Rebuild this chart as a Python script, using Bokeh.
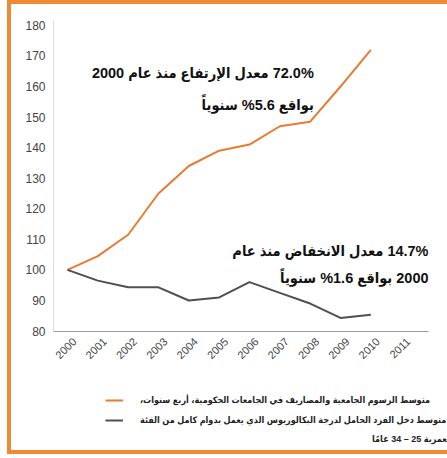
import numpy as np
from bokeh.plotting import figure
from bokeh.layouts import column
from bokeh.models import Label, Legend, LegendItem, FixedTicker, Range1d
from bokeh.embed import file_html
from bokeh.resources import INLINE

# ---- data ----
years = [2000, 2001, 2002, 2003, 2004, 2005, 2006, 2007, 2008, 2009, 2010]
tuition_index = [100, 104.5, 111.5, 125, 134, 139, 141, 147, 148.5, 160, 172]
income_index = [100, 96.5, 94.3, 94.3, 90, 91, 96, 92.5, 89, 84.3, 85.3]
tick_years = [2000, 2001, 2002, 2003, 2004, 2005, 2006, 2007, 2008, 2009, 2010, 2011]
y_ticks = [80, 90, 100, 110, 120, 130, 140, 150, 160, 170, 180]

rise_line1 = "72.0% معدل الإرتفاع منذ عام 2000"
rise_line2 = "بواقع 5.6% سنوياً"
fall_line1 = "14.7% معدل الانخفاض منذ عام"
fall_line2 = "2000 بواقع 1.6% سنوياً"
legend_tuition = "متوسط الرسوم الجامعية والمصاريف في الجامعات الحكومية، أربع سنوات،"
legend_income = "متوسط دخل الفرد الحامل لدرجة البكالوريوس الذي يعمل بدوام كامل من الفئة"
legend_income2 = "العمرية 25 – 34 عامًا"

RLE, PDF = "\u202B", "\u202C"
def rtl(s):
    return RLE + s + PDF

ORANGE = "#E97B30"
BORDER = "#EF8A36"
GREY = "#4F4F4F"
AR_FONT = "'Liberation Sans', 'DejaVu Sans Condensed'"

# ---------------- chart ----------------
X0, X1 = 1999.54, 2011.9
p = figure(width=447, height=378, output_backend="svg", toolbar_location=None,
           x_range=Range1d(X0, X1), y_range=Range1d(79.85, 181.6),
           min_border_left=53, min_border_right=19, min_border_top=20,
           min_border_bottom=47)
# labels of the year axis sit centred under each year (rotated text is end-anchored)
p.extra_x_ranges = {"years": Range1d(X0 - 0.23, X1 - 0.23)}
p.outline_line_color = None
p.xgrid.visible = False
p.ygrid.visible = False
p.background_fill_color = "white"
p.border_fill_color = None
# orange frame: left and top bands
p.styles = {"box-shadow": "inset 7px 0 0 0 white, inset 11px 4px 0 0 " + BORDER,
            "background-color": "white"}

xa = p.xaxis[0]
xa.x_range_name = "years"
xa.ticker = FixedTicker(ticks=tick_years)
xa.major_label_orientation = np.pi / 4
xa.major_tick_line_color = None
xa.minor_tick_line_color = None
xa.axis_line_color = "#9a9a9a"
xa.major_label_text_font = "Liberation Sans"
xa.major_label_text_font_size = "11px"
xa.major_label_text_color = "#444444"
xa.major_label_standoff = 2

p.yaxis.ticker = FixedTicker(ticks=y_ticks)
p.yaxis.major_tick_line_color = None
p.yaxis.minor_tick_line_color = None
p.yaxis.major_tick_out = 0
p.yaxis.axis_line_color = "#dddddd"
p.yaxis.major_label_text_font = "Liberation Sans"
p.yaxis.major_label_text_font_size = "12px"
p.yaxis.major_label_text_color = "#444444"
p.yaxis.major_label_standoff = 8

p.line(years, tuition_index, line_color=ORANGE, line_width=2)
p.line(years, income_index, line_color=GREY, line_width=2)

ann_style = dict(text_font=AR_FONT, text_font_style="bold", text_font_size="14.5px",
                 text_color="#111111", text_align="right", text_baseline="middle")
p.add_layout(Label(x=2008.12, y=164.3, text=rtl(rise_line1), **ann_style))
p.add_layout(Label(x=2008.12, y=154.1, text=rtl(rise_line2), **ann_style))
p.add_layout(Label(x=2011.9, y=106.35, text=rtl(fall_line1), **ann_style))
p.add_layout(Label(x=2011.9, y=97.2, text=rtl(fall_line2), **ann_style))

# ---------------- legend strip ----------------
q = figure(width=447, height=80, output_backend="svg", toolbar_location=None,
           x_axis_type=None, y_axis_type=None, x_range=Range1d(0, 1),
           y_range=Range1d(0, 1), min_border=0)
# keep this strip's frame over its whole canvas (no alignment with the chart frame)
FRAME_OFF = 53
if "frame_align" in type(q).properties():
    q.frame_align = False
    FRAME_OFF = 0
q.outline_line_color = None
q.background_fill_color = None
q.border_fill_color = None
# orange frame: left and bottom bands
q.styles = {"box-shadow": ("inset 7px 0 0 0 white, inset 0 -4px 0 0 white, "
                           "inset 11px -8px 0 0 " + BORDER),
            "background-color": "white"}

# same series, lying outside this strip's ranges: only their legend samples show
k_t = q.line(years, tuition_index, line_color=ORANGE, line_width=2)
k_i = q.line(years, income_index, line_color=GREY, line_width=2)
legend = Legend(items=[LegendItem(label=rtl(legend_tuition), renderers=[k_t]),
                       LegendItem(label=rtl(legend_income), renderers=[k_i])],
                location=(105 - FRAME_OFF, 31), orientation="vertical",
                glyph_width=18, glyph_height=14, label_height=14,
                label_standoff=17, spacing=6, padding=0, margin=0,
                border_line_alpha=0, background_fill_alpha=0,
                label_text_font=AR_FONT, label_text_font_style="bold",
                label_text_font_size="9px", label_text_color="#222222")
q.add_layout(legend)
q.add_layout(Label(x=452 - FRAME_OFF, y=20, x_units="screen", y_units="screen",
                   text=rtl(legend_income2), text_font=AR_FONT,
                   text_font_style="bold", text_font_size="9px", text_color="#222222",
                   text_align="right", text_baseline="middle"))

layout = column(p, q, spacing=0)
open("out.html", "w").write(file_html(layout, INLINE))
